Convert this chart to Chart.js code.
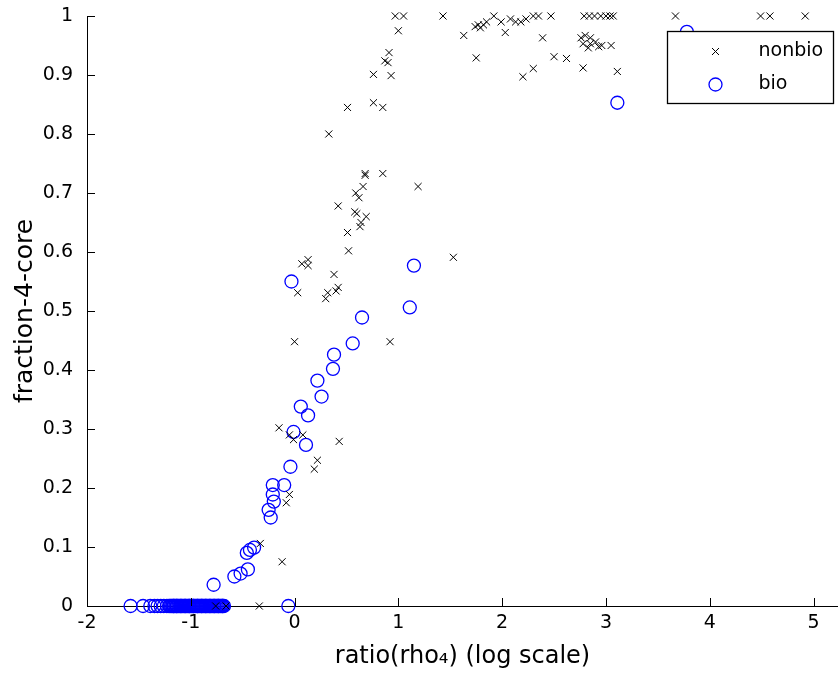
<!DOCTYPE html>
<html>
<head>
<meta charset="utf-8">
<script src="https://cdn.jsdelivr.net/npm/chart.js@4.4.0/dist/chart.umd.min.js"></script>
<style>
  html, body { margin: 0; padding: 0; background: #fff; }
</style>
</head>
<body>
<canvas id="fig" width="838" height="688"></canvas>
<script>
// values
var nonbioX = [0.97, 1.05, 1.00, 1.43, 1.63, 1.74, 1.77, 1.79, 1.82, 1.85,
  1.92, 1.75, 1.99, 2.03, 2.08, 2.13, 2.18, 2.23, 2.30, 2.35,
  2.47, 2.39, 2.50, 2.62, 2.20, 2.30, 2.78, 3.11, 2.79, 2.84,
  2.89, 2.95, 3.00, 3.04, 3.07, 2.76, 2.80, 2.85, 2.78, 2.85,
  2.90, 2.83, 2.93, 2.96, 3.05, 3.67, 4.49, 4.58, 4.92,
  0.91, 0.87, 0.90, 0.76, 0.93, 0.51, 0.76, 0.85, 0.33, 0.68,
  0.68, 0.85, 1.19, 0.66, 0.59, 0.62, 0.42, 0.58, 0.60, 0.69,
  0.64, 0.63, 0.51, 0.52, 0.13, 0.07, 0.13, 0.38, 0.03, 0.42,
  0.40, 0.32, 0.30, 1.53, 0.00, 0.92, -0.15, -0.05, -0.01, 0.08,
  0.43, 0.22, 0.19, -0.05, -0.08, -0.33, -0.12, -0.76, -0.66, -0.34];
var nonbioY = [1, 1, 0.975, 1, 0.967, 0.982, 0.985, 0.98, 0.985, 0.99,
  1, 0.929, 0.99, 0.972, 0.995, 0.99, 0.99, 0.995, 1, 1,
  1, 0.963, 0.931, 0.928, 0.897, 0.911, 0.912, 0.906, 1, 1,
  1, 1, 1, 1, 1, 0.963, 0.967, 0.963, 0.953, 0.953,
  0.956, 0.946, 0.948, 0.95, 0.95, 1, 1, 1, 1,
  0.938, 0.924, 0.921, 0.901, 0.899, 0.845, 0.853, 0.845, 0.80, 0.733,
  0.73, 0.733, 0.711, 0.711, 0.70, 0.692, 0.678, 0.668, 0.665, 0.66,
  0.65, 0.643, 0.633, 0.602, 0.587, 0.58, 0.577, 0.562, 0.531, 0.54,
  0.534, 0.531, 0.521, 0.591, 0.448, 0.448, 0.302, 0.29, 0.282, 0.29,
  0.279, 0.247, 0.232, 0.189, 0.175, 0.106, 0.075, 0, 0, 0];

var bioX = [3.11, 3.78, -0.03, 1.15, 1.11, 0.65, 0.56, 0.38, 0.37, 0.22,
  0.26, 0.06, 0.13, -0.01, 0.11, -0.04, -0.21, -0.10, -0.21, -0.20,
  -0.25, -0.23, -0.39, -0.43, -0.46, -0.45, -0.52, -0.58, -0.78];
var bioY = [0.853, 0.973, 0.55, 0.577, 0.506, 0.489, 0.445, 0.426, 0.402, 0.382,
  0.355, 0.338, 0.323, 0.295, 0.273, 0.236, 0.205, 0.205, 0.189, 0.177,
  0.163, 0.15, 0.099, 0.095, 0.09, 0.062, 0.055, 0.05, 0.036];
// bio points sitting on fraction = 0 (packed densely between -1.2 and -0.7)
var bioZeroX = [-1.58, -1.46, -1.39, -1.35, -1.32, -1.29, -1.26, -1.23, -1.21, -1.20,
  -1.19, -1.18, -1.17, -1.165, -1.16, -1.15, -1.14, -1.135, -1.13, -1.12,
  -1.11, -1.10, -1.095, -1.09, -1.08, -1.07, -1.06, -1.055, -1.05, -1.04,
  -1.03, -1.02, -1.015, -1.01, -1.00, -0.99, -0.98, -0.975, -0.97, -0.96,
  -0.95, -0.94, -0.935, -0.93, -0.92, -0.91, -0.90, -0.895, -0.89, -0.88,
  -0.87, -0.86, -0.855, -0.85, -0.84, -0.83, -0.82, -0.815, -0.81, -0.80,
  -0.79, -0.78, -0.775, -0.77, -0.76, -0.75, -0.74, -0.735, -0.73, -0.72,
  -0.71, -0.70, -0.695, -0.69, -0.68, -0.06];

var xTicks = [-2, -1, 0, 1, 2, 3, 4, 5];
var yTicks = [0, 0.1, 0.2, 0.3, 0.4, 0.5, 0.6, 0.7, 0.8, 0.9, 1];
var yTickLabels = ['0', '0.1', '0.2', '0.3', '0.4', '0.5', '0.6', '0.7', '0.8', '0.9', '1'];

function pairs(xs, ys) {
  return xs.map(function(x, i) { return {x: x, y: ys[i]}; });
}

var nonbioPts = pairs(nonbioX, nonbioY);
var bioPts = pairs(bioX, bioY).concat(bioZeroX.map(function(x) { return {x: x, y: 0}; }));

var FONT = 'DejaVu Sans';

// inward tick marks + boxed legend, matlab style
var matlabAxes = {
  id: 'matlabAxes',
  afterDatasetsDraw: function(chart) {
    var ctx = chart.ctx, a = chart.chartArea;
    var xs = chart.scales.x, ys = chart.scales.y;
    ctx.save();
    ctx.strokeStyle = '#000';
    ctx.lineWidth = 1;
    ctx.beginPath();
    xTicks.forEach(function(v) {
      var p = Math.round(xs.getPixelForValue(v)) + 0.5;
      ctx.moveTo(p, a.bottom); ctx.lineTo(p, a.bottom - 8);
    });
    yTicks.forEach(function(v) {
      var p = Math.round(ys.getPixelForValue(v)) + 0.5;
      ctx.moveTo(a.left, p); ctx.lineTo(a.left + 8, p);
    });
    ctx.stroke();

    // legend box
    var bw = 166, bh = 72;
    var bx = Math.round(a.right - 5 - bw) + 0.5, by = Math.round(a.top + 15) + 0.5;
    ctx.fillStyle = '#fff';
    ctx.fillRect(bx, by, bw, bh);
    ctx.lineWidth = 1.3;
    ctx.strokeRect(bx, by, bw, bh);

    var mx = bx + 48;
    var y1 = by + 20, y2 = by + 53;
    ctx.lineWidth = 1;
    ctx.strokeStyle = '#000';
    ctx.beginPath();
    ctx.moveTo(mx - 3.5, y1 - 3.5); ctx.lineTo(mx + 3.5, y1 + 3.5);
    ctx.moveTo(mx - 3.5, y1 + 3.5); ctx.lineTo(mx + 3.5, y1 - 3.5);
    ctx.stroke();
    ctx.strokeStyle = '#0000ff';
    ctx.lineWidth = 1.3;
    ctx.beginPath();
    ctx.arc(mx, y2, 6.5, 0, Math.PI * 2);
    ctx.stroke();

    ctx.fillStyle = '#000';
    ctx.font = '19px "' + FONT + '"';
    ctx.textBaseline = 'middle';
    ctx.textAlign = 'left';
    ctx.fillText(chart.data.datasets[0].label, bx + 91, y1);
    ctx.fillText(chart.data.datasets[1].label, bx + 91, y2);
    ctx.restore();
  }
};

var ctx = document.getElementById('fig').getContext('2d');
var chart = new Chart(ctx, {
  type: 'scatter',
  data: {
    datasets: [{
      label: 'nonbio',
      data: nonbioPts,
      pointStyle: 'crossRot',
      pointRadius: 5,
      borderColor: '#000',
      borderWidth: 1,
      backgroundColor: '#000',
      clip: false
    }, {
      label: 'bio',
      data: bioPts,
      pointStyle: 'circle',
      pointRadius: 6.5,
      borderColor: '#0000ff',
      borderWidth: 1.3,
      backgroundColor: 'rgba(0,0,0,0)',
      clip: false
    }]
  },
  options: {
    responsive: false,
    animation: false,
    events: [],
    layout: { autoPadding: false, padding: { top: 16, right: 0, left: 0, bottom: 0 } },
    plugins: {
      legend: { display: false },
      tooltip: { enabled: false }
    },
    scales: {
      x: {
        type: 'linear',
        min: -2,
        max: 5.236,
        grid: { display: false, drawTicks: false },
        border: { display: true, color: '#000', width: 1 },
        afterBuildTicks: function(s) { s.ticks = xTicks.map(function(v) { return {value: v}; }); },
        afterFit: function(s) { s.height = 82; s.paddingRight = 0; s.paddingLeft = 0; },
        ticks: {
          color: '#000',
          padding: 6,
          maxRotation: 0,
          font: { family: FONT, size: 19 },
          callback: function(v) { return String(v); }
        },
        title: {
          display: true,
          text: 'ratio(rho\u2084) (log scale)',
          color: '#000',
          font: { family: FONT, size: 24 },
          padding: { top: 0, bottom: 17 }
        }
      },
      y: {
        type: 'linear',
        min: 0,
        max: 1,
        grid: { display: false, drawTicks: false },
        border: { display: true, color: '#000', width: 1 },
        afterBuildTicks: function(s) { s.ticks = yTicks.map(function(v) { return {value: v}; }); },
        afterFit: function(s) { s.width = 87; s.paddingTop = 0; s.paddingBottom = 0; },
        ticks: {
          color: '#000',
          padding: 14,
          font: { family: FONT, size: 19 },
          callback: function(v, i) { return yTickLabels[i]; }
        },
        title: {
          display: true,
          text: 'fraction-4-core',
          color: '#000',
          font: { family: FONT, size: 25 },
          padding: { top: 10, bottom: 0 }
        }
      }
    }
  },
  plugins: [matlabAxes]
});
</script>
</body>
</html>
